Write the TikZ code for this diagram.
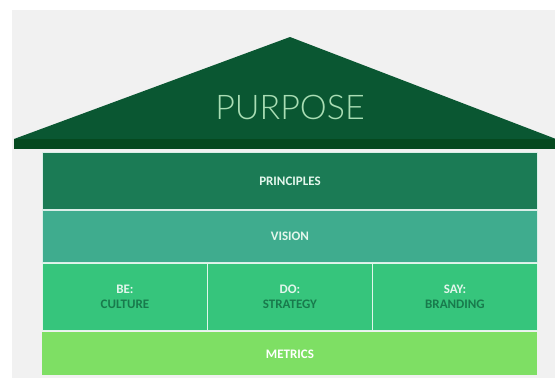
\documentclass[tikz,border=0pt]{standalone}
\usepackage{fontspec}
\setmainfont{Carlito}
\newfontfamily\purpfont{Lato Light}
\definecolor{bggray}{HTML}{F1F1F1}
\definecolor{roofc}{HTML}{0A5732}
\definecolor{roofband}{HTML}{05491F}
\definecolor{princ}{HTML}{1B7B55}
\definecolor{visc}{HTML}{3FAC8E}
\definecolor{rowc}{HTML}{36C57C}
\definecolor{metc}{HTML}{7EDF64}
\definecolor{purpc}{HTML}{A9DDB4}
\definecolor{txtlight}{HTML}{E3F6EC}
\definecolor{txtdark}{HTML}{187A4C}
\tikzset{
  layer/.style={draw=white!80!visc, line width=0.9pt, minimum width=495pt, inner sep=0pt, anchor=north west},
  cell/.style={draw=white!85!rowc, line width=0.9pt, fill=rowc, minimum width=165pt, minimum height=67pt, inner sep=0pt, anchor=north west, align=center, font=\bfseries\fontsize{13}{15}\selectfont},
  lab/.style={font=\bfseries\fontsize{13}{15}\selectfont, text=txtlight}
}
\begin{document}
\begin{tikzpicture}[x=1pt,y=-1pt]
\useasboundingbox (0,0) rectangle (555,378);
\fill[white] (0,0) rectangle (555,378);
\fill[bggray] (12,10) rectangle (555,378);
% roof
\fill[roofc] (14,139) -- (290,37) -- (556,139) -- cycle;
\fill[roofband] (14,139) rectangle (556,149);
\node[font=\purpfont\fontsize{34}{40}\selectfont, text=purpc] (purpose) at (290,107) {PURPOSE};
% layers
\node[layer, fill=princ, minimum height=57pt] (principles) at (42,152) {};
\node[lab] at (principles.center) {PRINCIPLES};
\node[layer, fill=visc, minimum height=52pt] (vision) at (42,210) {};
\node[lab] at (vision.center) {VISION};
\node[cell] (be) at (42,263) {\textcolor{txtlight}{BE:}\\[0pt]\textcolor{txtdark}{CULTURE}};
\node[cell] (do) at (207,263) {\textcolor{txtlight}{DO:}\\[0pt]\textcolor{txtdark}{STRATEGY}};
\node[cell] (say) at (372,263) {\textcolor{txtlight}{SAY:}\\[0pt]\textcolor{txtdark}{BRANDING}};
\node[layer, fill=metc, draw=none, minimum height=43pt] (metrics) at (42,332) {};
\node[lab, text=white] at (metrics.center) {METRICS};
\end{tikzpicture}
\end{document}
